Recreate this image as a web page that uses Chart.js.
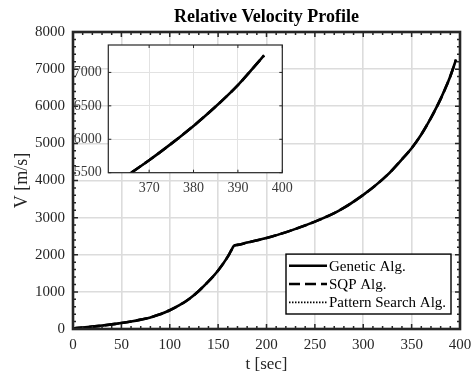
<!DOCTYPE html>
<html>
<head>
<meta charset="utf-8">
<script src="https://cdn.jsdelivr.net/npm/chart.js@4.4.0/dist/chart.umd.min.js"></script>
<style>
    html, body { margin: 0; padding: 0; background: #fff; }
    #wrap { position: relative; width: 471px; height: 376px; }
    #main { position: absolute; left: 0; top: 0; }
    #zoom { position: absolute; left: 60px; top: 30px; }
</style>
</head>
<body>
<div id="wrap">
    <canvas id="main" width="471" height="376"></canvas>
    <canvas id="zoom" width="240" height="175"></canvas>
</div>
<script>
// flight time [sec]
const timeSec = [0, 10, 20, 30, 40, 50, 60, 70, 80, 90, 100, 110, 120, 130, 140, 150, 160, 163, 166.5,
    170, 180, 200, 225, 250, 275, 300, 325, 340, 350, 360, 370, 375, 380, 385, 390, 395.9];

// relative velocity [m/s] for each optimiser
const geneticV = [15, 38, 63, 92, 124, 160, 202, 252, 312, 395, 505, 640, 810, 1025, 1280, 1575, 1950, 2090, 2245,
    2266, 2328, 2450, 2650, 2892, 3189, 3612, 4150, 4570, 4870, 5240, 5687, 5935, 6200, 6490, 6810, 7255];
const sqpV = [15, 38, 63, 92, 124, 160, 202, 252, 312, 395, 505, 640, 810, 1025, 1280, 1575, 1950, 2090, 2245,
    2266, 2328, 2450, 2650, 2892, 3189, 3612, 4150, 4570, 4870, 5240, 5687, 5935, 6200, 6490, 6810, 7255];
const patternV = [15, 38, 63, 92, 124, 160, 202, 252, 312, 395, 505, 640, 810, 1025, 1280, 1575, 1950, 2090, 2245,
    2266, 2328, 2450, 2650, 2892, 3189, 3612, 4150, 4570, 4870, 5240, 5687, 5935, 6200, 6490, 6810, 7255];

const seriesNames = ['Genetic Alg.', 'SQP Alg.', 'Pattern Search Alg.'];

// tick values, full view and zoomed view
const mainXTicks = [0, 50, 100, 150, 200, 250, 300, 350, 400];
const mainYTicks = [0, 1000, 2000, 3000, 4000, 5000, 6000, 7000, 8000];
const zoomXTicks = [370, 380, 390, 400];
const zoomYTicks = [5500, 6000, 6500, 7000];

const SERIF = "'Liberation Serif', 'DejaVu Serif', serif";
const INK = '#262626';
Chart.defaults.font.family = SERIF;
Chart.defaults.color = INK;

function points(vals) {
    return timeSec.map((t, i) => ({ x: t, y: vals[i] }));
}

function useTicks(list) {
    return s => { s.ticks = list.map(v => ({ value: v })); };
}

function makeDatasets() {
    const common = { borderColor: '#000', pointRadius: 0, cubicInterpolationMode: 'monotone' };
    return [
        { ...common, label: seriesNames[0], data: points(geneticV), borderWidth: 2.6, borderDash: [] },
        { ...common, label: seriesNames[1], data: points(sqpV), borderWidth: 2.6, borderDash: [11, 5] },
        { ...common, label: seriesNames[2], data: points(patternV), borderWidth: 1.6, borderDash: [1.5, 1.5] }
    ];
}

// box around the plot area with inward major / minor ticks
const boxTicks = {
    id: 'boxTicks',
    beforeDraw(chart, args, opts) {
        if (!opts.fill) return;
        const a = chart.chartArea;
        chart.ctx.save();
        chart.ctx.fillStyle = opts.fill;
        chart.ctx.fillRect(a.left, a.top, a.width, a.height);
        chart.ctx.restore();
    },
    afterDraw(chart, args, opts) {
        const { ctx, chartArea: a, scales: { x, y } } = chart;
        ctx.save();
        ctx.strokeStyle = opts.color;
        ctx.lineWidth = opts.tickWidth;
        ctx.beginPath();
        for (let k = Math.ceil(x.min / opts.xMinor); k * opts.xMinor <= x.max; k++) {
            const v = k * opts.xMinor;
            const px = x.getPixelForValue(v);
            const len = v % opts.xMajor === 0 ? opts.major : opts.minor;
            ctx.moveTo(px, a.bottom); ctx.lineTo(px, a.bottom - len);
            ctx.moveTo(px, a.top); ctx.lineTo(px, a.top + len);
        }
        for (let k = Math.ceil(y.min / opts.yMinor); k * opts.yMinor <= y.max; k++) {
            const v = k * opts.yMinor;
            const py = y.getPixelForValue(v);
            const len = v % opts.yMajor === 0 ? opts.major : opts.minor;
            ctx.moveTo(a.left, py); ctx.lineTo(a.left + len, py);
            ctx.moveTo(a.right, py); ctx.lineTo(a.right - len, py);
        }
        ctx.stroke();
        ctx.lineWidth = opts.borderWidth;
        ctx.strokeRect(a.left, a.top, a.width, a.height);
        ctx.restore();
    }
};

// legend drawn in a framed box in the lower right corner of the plot
const boxLegend = {
    id: 'boxLegend',
    afterDraw(chart, args, opts) {
        if (!opts.show) return;
        const { ctx, chartArea: a } = chart;
        const sets = chart.data.datasets;
        const h = opts.rowHeight * sets.length + opts.pad * 2;
        const left = a.right - opts.right - opts.width;
        const top = a.bottom - opts.bottom - h;
        ctx.save();
        ctx.fillStyle = '#fff';
        ctx.fillRect(left, top, opts.width, h);
        ctx.strokeStyle = '#000';
        ctx.lineWidth = 1.4;
        ctx.strokeRect(left, top, opts.width, h);
        ctx.font = opts.font;
        ctx.textBaseline = 'middle';
        ctx.fillStyle = '#000';
        sets.forEach((ds, i) => {
            const cy = top + opts.pad + opts.rowHeight * (i + 0.5);
            ctx.setLineDash(ds.borderDash);
            ctx.lineWidth = ds.borderWidth;
            ctx.beginPath();
            ctx.moveTo(left + 3, cy);
            ctx.lineTo(left + 41, cy);
            ctx.stroke();
            ctx.setLineDash([]);
            ctx.fillText(ds.label, left + 43, cy + 1);
        });
        ctx.restore();
    }
};

const mainChart = new Chart(document.getElementById('main'), {
    type: 'line',
    data: { datasets: makeDatasets() },
    plugins: [boxTicks, boxLegend],
    options: {
        responsive: false,
        animation: false,
        layout: { padding: { left: 0, right: 11, top: 0, bottom: 0 } },
        plugins: {
            legend: { display: false },
            tooltip: { enabled: false },
            boxTicks: { color: INK, tickWidth: 1.5, borderWidth: 2.6, major: 5, minor: 3,
                xMinor: 10, xMajor: 50, yMinor: 200, yMajor: 1000 },
            boxLegend: { show: true, width: 165, rowHeight: 18.3, pad: 2.5, right: 9, bottom: 15,
                font: '15px ' + SERIF }
        },
        scales: {
            x: {
                type: 'linear', min: 0, max: 400,
                afterBuildTicks: useTicks(mainXTicks),
                ticks: { padding: 7, font: { size: 15 }, maxRotation: 0, callback: v => String(v) },
                grid: { color: '#dcdcdc', lineWidth: 1.6, drawTicks: false },
                border: { display: false },
                title: { display: true, text: 't [sec]', font: { size: 17 }, padding: { top: 0, bottom: 1 } },
                afterFit: s => { s.height = 47; s.paddingLeft = 0; s.paddingRight = 0; }
            },
            top: {
                type: 'linear', position: 'top', min: 0, max: 400,
                ticks: { display: false },
                grid: { display: false },
                border: { display: false },
                title: { display: true, text: 'Relative Velocity Profile', color: '#000',
                    font: { size: 18, weight: 'bold' }, padding: { top: 7, bottom: 0 } },
                afterFit: s => { s.height = 32; }
            },
            y: {
                type: 'linear', min: 0, max: 8000,
                afterBuildTicks: useTicks(mainYTicks),
                ticks: { padding: 8, font: { size: 15 }, callback: v => String(v) },
                grid: { color: '#dcdcdc', lineWidth: 1.6, drawTicks: false },
                border: { display: false },
                title: { display: true, text: 'V [m/s]', font: { size: 18 }, padding: { top: 11, bottom: 0 } },
                afterFit: s => { s.width = 73; }
            }
        }
    }
});

// zoomed view of the final burn
const zoomChart = new Chart(document.getElementById('zoom'), {
    type: 'line',
    data: { datasets: makeDatasets() },
    plugins: [boxTicks],
    options: {
        responsive: false,
        animation: false,
        layout: { padding: { left: 0, right: 17.7, top: 11.7, bottom: 0 } },
        plugins: {
            legend: { display: false },
            tooltip: { enabled: false },
            boxTicks: { fill: '#fff', color: INK, tickWidth: 1, borderWidth: 1.2, major: 3, minor: 3,
                xMinor: 10, xMajor: 10, yMinor: 500, yMajor: 500 }
        },
        scales: {
            x: {
                type: 'linear', min: 360.8, max: 400,
                afterBuildTicks: useTicks(zoomXTicks),
                ticks: { padding: 7, color: '#3a3a3a', font: { size: 14 }, maxRotation: 0, callback: v => String(v) },
                grid: { color: '#e2e2e2', lineWidth: 1, drawTicks: false },
                border: { display: false },
                afterFit: s => { s.height = 32.3; s.paddingLeft = 0; s.paddingRight = 0; }
            },
            y: {
                type: 'linear', min: 5500, max: 7410,
                afterBuildTicks: useTicks(zoomYTicks),
                ticks: { padding: 6.6, color: '#3a3a3a', font: { size: 14 }, callback: v => String(v) },
                grid: { color: '#e2e2e2', lineWidth: 1, drawTicks: false },
                border: { display: false },
                afterFit: s => { s.width = 48.3; }
            }
        }
    }
});
</script>
</body>
</html>
